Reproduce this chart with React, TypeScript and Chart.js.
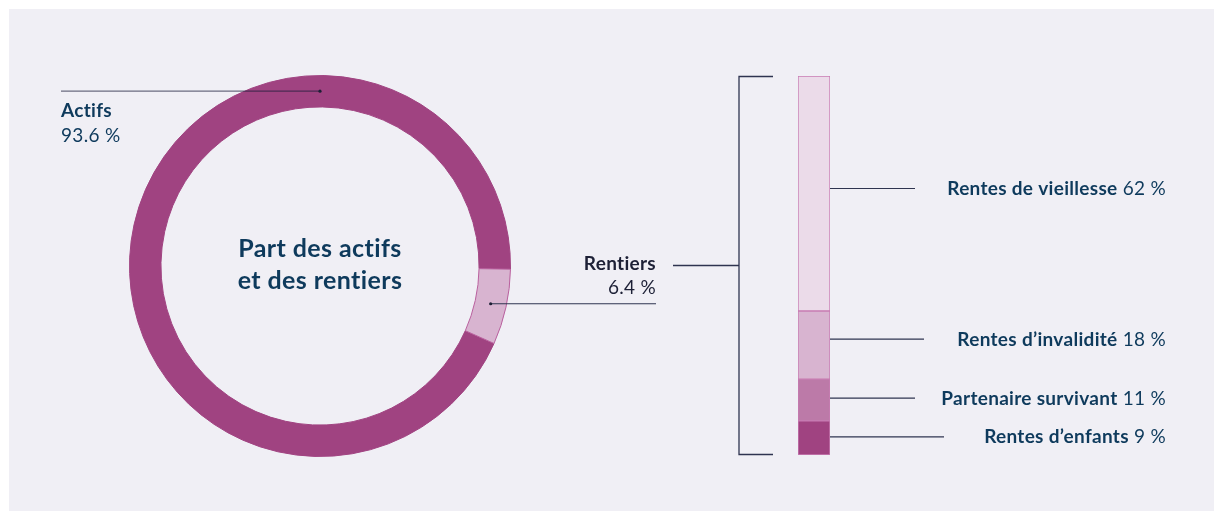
import React, { useEffect, useRef } from 'react';
import { Chart, registerables } from 'chart.js';

Chart.register(...registerables);

// ---- data ----
const ringCategories = ['Actifs', 'Rentiers'];
const ringValues = [93.6, 6.4];
const ringColors = ['#a04381', '#d8b4d0'];
const ringBorders = ['#a04381', '#b9609e'];

const barCategories = ['Rentes de vieillesse', 'Rentes d\u2019invalidité', 'Partenaire survivant', 'Rentes d\u2019enfants'];
const barValues = [62, 18, 11, 9];
const barColors = ['#ebdbe9', '#d8b4d0', '#bc7aa8', '#a04381'];

const titleLines = ['Part des actifs', 'et des rentiers'];

// ---- style / layout ----
const W = 1214;
const H = 511;
const TEXT = '#0e3a5c';
const LINE = '#2f3450';
const FONT = 'Lato, "Open Sans", sans-serif';
const LS = '0.3px';
const labelLineOffsets = [-5, -6, -2, -1];
const labelLineEnds = [915, 924, 915, 944];

const fmt = (v: number) => `${v} %`;

function dot(ctx: CanvasRenderingContext2D, x: number, y: number) {
  ctx.beginPath();
  ctx.arc(x, y, 1.6, 0, Math.PI * 2);
  ctx.fillStyle = '#1d2036';
  ctx.fill();
}

const ringPlugin = {
  id: 'ringAnnotations',
  afterDraw(chart: any) {
    const ctx: any = chart.ctx;
    const meta = chart.getDatasetMeta(0);
    const a0 = meta.data[0];
    const a1 = meta.data[1];
    const cx = a0.x;
    const cy = a0.y;
    const midR = (a0.innerRadius + a0.outerRadius) / 2;
    ctx.save();
    ctx.letterSpacing = '0.4px';
    // centre title
    ctx.fillStyle = TEXT;
    ctx.font = `bold 25px ${FONT}`;
    ctx.textAlign = 'center';
    ctx.textBaseline = 'alphabetic';
    ctx.fillText(titleLines[0], cx, cy - 9);
    ctx.fillText(titleLines[1], cx, cy + 23);
    ctx.letterSpacing = LS;

    // Actifs
    const ay = cy - midR;
    ctx.strokeStyle = 'rgba(25,28,55,0.62)';
    ctx.lineWidth = 1.2;
    ctx.beginPath();
    ctx.moveTo(61, ay);
    ctx.lineTo(cx, ay);
    ctx.stroke();
    dot(ctx, cx, ay);
    ctx.textAlign = 'left';
    ctx.fillStyle = TEXT;
    ctx.font = `bold 19px ${FONT}`;
    ctx.fillText(ringCategories[0], 61, ay + 26);
    ctx.font = `19px ${FONT}`;
    ctx.fillText(fmt(ringValues[0]), 61, ay + 51);

    // Rentiers
    const p = a1.getCenterPoint();
    ctx.strokeStyle = LINE;
    ctx.lineWidth = 1.2;
    ctx.beginPath();
    ctx.moveTo(p.x, p.y);
    ctx.lineTo(656, p.y);
    ctx.stroke();
    dot(ctx, p.x, p.y);
    ctx.textAlign = 'right';
    ctx.font = `bold 19px ${FONT}`;
    ctx.fillText(ringCategories[1], 656, p.y - 34);
    ctx.font = `19px ${FONT}`;
    ctx.fillText(fmt(ringValues[1]), 656, p.y - 10);
    ctx.restore();
  },
};

const barPlugin = {
  id: 'barAnnotations',
  afterDraw(chart: any) {
    const ctx: any = chart.ctx;
    const area = chart.chartArea;
    ctx.save();
    ctx.letterSpacing = LS;
    ctx.strokeStyle = LINE;
    ctx.lineWidth = 1.3;
    // bracket
    const bx = area.left - 59;
    ctx.beginPath();
    ctx.moveTo(bx + 34, area.top + 0.5);
    ctx.lineTo(bx, area.top + 0.5);
    ctx.lineTo(bx, area.bottom - 0.5);
    ctx.lineTo(bx + 34, area.bottom - 0.5);
    ctx.stroke();
    const my = (area.top + area.bottom) / 2;
    ctx.beginPath();
    ctx.moveTo(673, my);
    ctx.lineTo(bx, my);
    ctx.stroke();

    const right = 1166;
    chart.data.datasets.forEach((ds: any, di: number) => {
      const el = chart.getDatasetMeta(di).data[0];
      const idx = ds.catIndex;
      const y = (el.y + el.base) / 2 + labelLineOffsets[idx];
      ctx.font = `19px ${FONT}`;
      const valTxt = ' ' + fmt(barValues[idx]);
      const vw = ctx.measureText(valTxt).width;
      ctx.font = `bold 19px ${FONT}`;
      const nw = ctx.measureText(barCategories[idx]).width;
      const textLeft = right - vw - nw;
      ctx.strokeStyle = LINE;
      ctx.lineWidth = 1.2;
      ctx.beginPath();
      ctx.moveTo(el.x + el.width / 2, y);
      ctx.lineTo(labelLineEnds[idx], y);
      ctx.stroke();
      ctx.fillStyle = TEXT;
      ctx.textAlign = 'left';
      ctx.textBaseline = 'alphabetic';
      ctx.fillText(barCategories[idx], textLeft, y + 6.5);
      ctx.font = `19px ${FONT}`;
      ctx.fillText(valTxt, textLeft + nw, y + 6.5);
    });
    ctx.restore();
  },
};

export default function App() {
  const ringRef = useRef<HTMLCanvasElement>(null);
  const barRef = useRef<HTMLCanvasElement>(null);

  useEffect(() => {
    const ring = new Chart(ringRef.current!, {
      type: 'doughnut',
      data: {
        labels: ringCategories,
        datasets: [
          {
            data: ringValues,
            backgroundColor: ringColors,
            borderColor: ringBorders,
            borderWidth: 1,
          },
        ],
      },
      options: {
        animation: false,
        responsive: false,
        cutout: '83.5%',
        rotation: 114,
        layout: { padding: { left: 129, top: 75, right: W - 129 - 382, bottom: H - 75 - 382 } },
        plugins: { legend: { display: false }, tooltip: { enabled: false } },
        events: [],
      },
      plugins: [ringPlugin],
    } as any);

    const order = [3, 2, 1, 0];
    const bar = new Chart(barRef.current!, {
      type: 'bar',
      data: {
        labels: ['Rentiers'],
        datasets: order.map((i) => ({
          label: barCategories[i],
          catIndex: i,
          data: [barValues[i]],
          backgroundColor: barColors[i],
          borderColor: '#c87cb3',
          borderWidth: 1,
          borderSkipped: false,
          barPercentage: 1,
          categoryPercentage: 1,
        })),
      },
      options: {
        animation: false,
        responsive: false,
        layout: { padding: { left: 798, top: 76, right: W - 830, bottom: H - 455 } },
        scales: {
          x: { display: false, stacked: true },
          y: { display: false, stacked: true, min: 0, max: 100 },
        },
        plugins: { legend: { display: false }, tooltip: { enabled: false } },
        events: [],
      },
      plugins: [barPlugin],
    } as any);

    return () => {
      ring.destroy();
      bar.destroy();
    };
  }, []);

  return (
    <div style={{ position: 'absolute', left: 0, top: 0, width: W, height: H, background: '#ffffff', overflow: 'hidden' }}>
      <div style={{ position: 'absolute', left: 9, top: 9, width: W - 9, height: H - 9, background: '#f0eff5' }} />
      <canvas ref={ringRef} width={W} height={H} style={{ position: 'absolute', left: 0, top: 0, width: W, height: H }} />
      <canvas ref={barRef} width={W} height={H} style={{ position: 'absolute', left: 0, top: 0, width: W, height: H }} />
    </div>
  );
}
